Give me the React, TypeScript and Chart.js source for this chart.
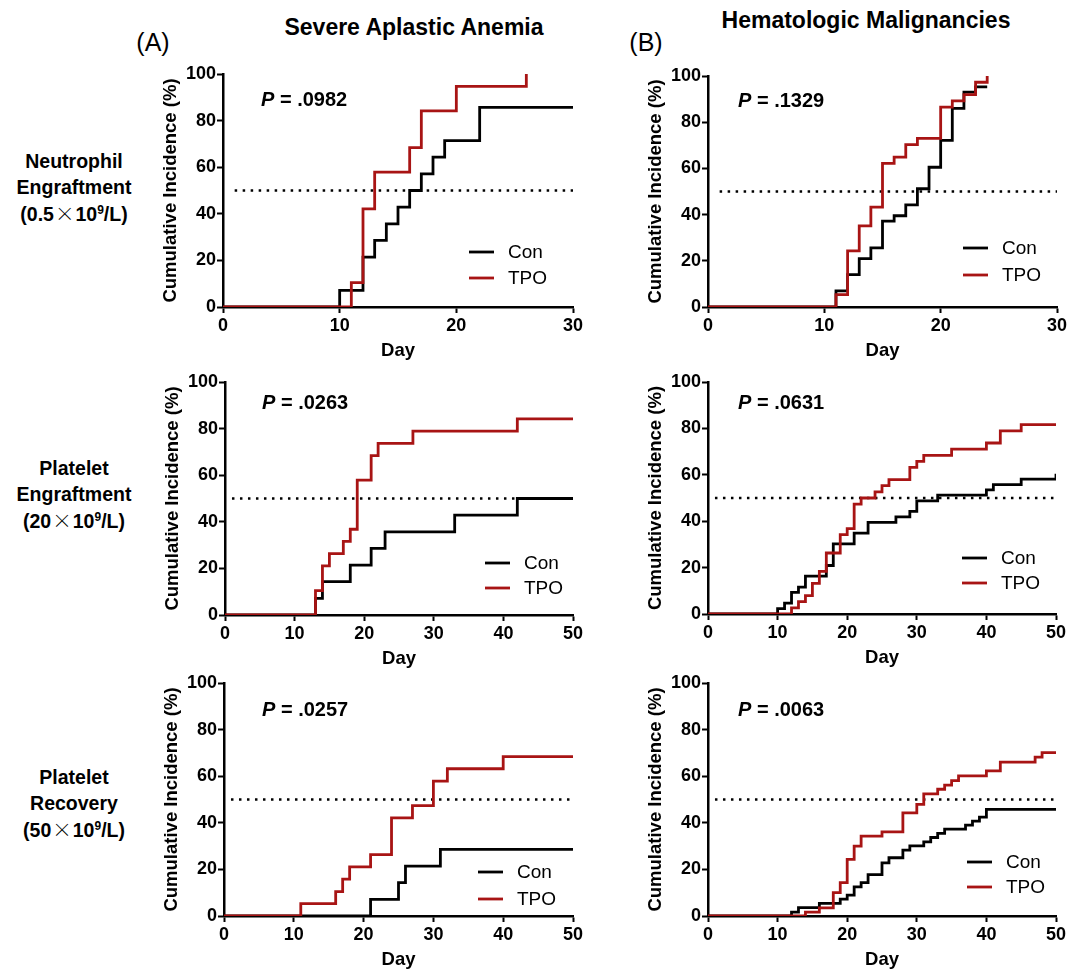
import React, { useEffect, useRef } from "react";
import { Chart, registerables } from "chart.js";

Chart.register(...registerables);

// ---------- DATA ----------
// Severe Aplastic Anemia – Neutrophil engraftment
const saaNeutConDays = [0, 10, 12, 13, 14, 15, 16, 17, 18, 19, 22, 30];
const saaNeutConPct = [0, 7.1, 21.4, 28.6, 35.7, 42.9, 50, 57.1, 64.3, 71.4, 85.7, 85.7];
const saaNeutTpoDays = [0, 11, 12, 13, 16, 17, 20, 26];
const saaNeutTpoPct = [0, 10.5, 42.1, 57.9, 68.4, 84.2, 94.7, 100];

// Hematologic Malignancies – Neutrophil engraftment
const hmNeutConDays = [0, 11, 12, 13, 14, 15, 16, 17, 18, 19, 20, 21, 22, 23, 24];
const hmNeutConPct = [0, 7.0, 14.0, 20.9, 25.6, 37.2, 39.5, 44.2, 51.2, 60.5, 72.1, 86.0, 93.0, 95.3, 95.3];
const hmNeutTpoDays = [0, 11, 12, 13, 14, 15, 16, 17, 18, 20, 21, 22, 23, 24];
const hmNeutTpoPct = [0, 5.4, 24.3, 35.1, 43.2, 62.2, 64.9, 70.3, 73.0, 86.5, 89.2, 91.9, 97.3, 100];

// Severe Aplastic Anemia – Platelet engraftment
const saaPltEngConDays = [0, 13, 14, 18, 21, 23, 33, 42, 50];
const saaPltEngConPct = [0, 7.1, 14.3, 21.4, 28.6, 35.7, 42.9, 50, 50];
const saaPltEngTpoDays = [0, 13, 14, 15, 17, 18, 19, 21, 22, 27, 42, 50];
const saaPltEngTpoPct = [0, 10.5, 21.1, 26.3, 31.6, 36.8, 57.9, 68.4, 73.7, 78.9, 84.2, 84.2];

// Hematologic Malignancies – Platelet engraftment
const hmPltEngConDays = [0, 10, 11, 12, 13, 14, 17, 18, 21, 23, 27, 29, 30, 33, 40, 41, 45, 50];
const hmPltEngConPct = [0, 2.3, 4.7, 9.3, 11.6, 16.3, 20.9, 30.2, 34.9, 39.5, 41.9, 44.2, 48.8, 51.2, 53.5, 55.8, 58.1, 60.5];
const hmPltEngTpoDays = [0, 12, 13, 14, 15, 16, 17, 19, 20, 21, 22, 24, 25, 26, 29, 30, 31, 35, 40, 42, 45, 50];
const hmPltEngTpoPct = [0, 2.6, 5.3, 7.9, 13.2, 18.4, 26.3, 34.2, 36.8, 47.4, 50, 52.6, 55.3, 57.9, 63.2, 65.8, 68.4, 71.1, 73.7, 78.9, 81.6, 81.6];

// Severe Aplastic Anemia – Platelet recovery
const saaPltRecConDays = [0, 21, 25, 26, 31, 50];
const saaPltRecConPct = [0, 7.1, 14.3, 21.4, 28.6, 28.6];
const saaPltRecTpoDays = [0, 11, 16, 17, 18, 21, 24, 27, 30, 32, 40, 50];
const saaPltRecTpoPct = [0, 5.3, 10.5, 15.8, 21.1, 26.3, 42.1, 47.4, 57.9, 63.2, 68.4, 68.4];

// Hematologic Malignancies – Platelet recovery
const hmPltRecConDays = [0, 12, 13, 16, 19, 20, 21, 22, 23, 25, 26, 28, 29, 31, 32, 33, 34, 37, 38, 39, 40, 50];
const hmPltRecConPct = [0, 1.7, 3.6, 5.4, 7.2, 9.0, 12.5, 14.3, 17.8, 22.8, 25.0, 28.3, 30.1, 31.8, 33.7, 35.5, 37.3, 39.0, 40.7, 42.4, 45.8, 45.8];
const hmPltRecTpoDays = [0, 14, 16, 18, 19, 20, 21, 22, 25, 28, 30, 31, 33, 34, 35, 36, 40, 42, 47, 48, 50];
const hmPltRecTpoPct = [0, 1.7, 3.5, 10.0, 14.3, 24.3, 30.0, 34.3, 36.1, 44.3, 47.9, 52.4, 54.4, 56.2, 58.1, 60.1, 62.3, 66.0, 68.2, 70.1, 70.1];

const pValues = [".0982", ".1329", ".0263", ".0631", ".0257", ".0063"];
const xMaxes = [30, 30, 50, 50, 50, 50];
const seriesNames = ["Con", "TPO"];
const refLevel = 50;
const yTicksMax = 100;

// ---------- STYLE / LAYOUT ----------
const FONT = "Arial, 'Liberation Sans', Helvetica, sans-serif";
const RED = "#a81414";
const BLACK = "#000000";

const W_AXIS = 63;
const H_AXIS = 55;
const PAD_T = 14;
const PAD_R = 24;
const PAD_B = 2;

type Rect = { L: number; T: number; R: number; B: number };
type PanelDef = {
  con: [number[], number[]];
  tpo: [number[], number[]];
  xMax: number;
  p: string;
  rect: Rect;
  legend: { dx: number; conDy: number; tpoDy: number };
  pPos: { dx: number; dy: number };
};

const panels: PanelDef[] = [
  {
    con: [saaNeutConDays, saaNeutConPct], tpo: [saaNeutTpoDays, saaNeutTpoPct],
    xMax: xMaxes[0], p: pValues[0],
    rect: { L: 223, T: 74, R: 573, B: 307 },
    legend: { dx: 104, conDy: 55, tpoDy: 29 }, pPos: { dx: 38, dy: 26 },
  },
  {
    con: [hmNeutConDays, hmNeutConPct], tpo: [hmNeutTpoDays, hmNeutTpoPct],
    xMax: xMaxes[1], p: pValues[1],
    rect: { L: 708, T: 76, R: 1057, B: 307 },
    legend: { dx: 94, conDy: 59, tpoDy: 32 }, pPos: { dx: 30, dy: 25 },
  },
  {
    con: [saaPltEngConDays, saaPltEngConPct], tpo: [saaPltEngTpoDays, saaPltEngTpoPct],
    xMax: xMaxes[2], p: pValues[2],
    rect: { L: 225, T: 382, R: 573, B: 615 },
    legend: { dx: 88, conDy: 52, tpoDy: 27 }, pPos: { dx: 37, dy: 21 },
  },
  {
    con: [hmPltEngConDays, hmPltEngConPct], tpo: [hmPltEngTpoDays, hmPltEngTpoPct],
    xMax: xMaxes[3], p: pValues[3],
    rect: { L: 708, T: 382, R: 1056, B: 614 },
    legend: { dx: 94, conDy: 56, tpoDy: 31 }, pPos: { dx: 30, dy: 21 },
  },
  {
    con: [saaPltRecConDays, saaPltRecConPct], tpo: [saaPltRecTpoDays, saaPltRecTpoPct],
    xMax: xMaxes[4], p: pValues[4],
    rect: { L: 224, T: 683, R: 573, B: 916 },
    legend: { dx: 95, conDy: 44, tpoDy: 17 }, pPos: { dx: 38, dy: 27 },
  },
  {
    con: [hmPltRecConDays, hmPltRecConPct], tpo: [hmPltRecTpoDays, hmPltRecTpoPct],
    xMax: xMaxes[5], p: pValues[5],
    rect: { L: 708, T: 683, R: 1056, B: 916 },
    legend: { dx: 89, conDy: 54, tpoDy: 29 }, pPos: { dx: 30, dy: 27 },
  },
];

function toPoints(days: number[], pct: number[]) {
  return days.map((d, i) => ({ x: d, y: pct[i] }));
}

function Panel({ def }: { def: PanelDef }) {
  const ref = useRef<HTMLCanvasElement | null>(null);
  const { L, T, R, B } = def.rect;
  const cw = W_AXIS + (R - L) + PAD_R;
  const ch = PAD_T + (B - T) + H_AXIS + PAD_B;

  useEffect(() => {
    if (!ref.current) return;
    const overlay = {
      id: "overlay",
      afterDatasetsDraw(chart: any) {
        const { ctx, chartArea } = chart;
        ctx.save();
        // P value
        ctx.textBaseline = "middle";
        ctx.textAlign = "left";
        ctx.fillStyle = "#000";
        const px = chartArea.left + def.pPos.dx;
        const py = chartArea.top + def.pPos.dy;
        ctx.font = `italic bold 20px ${FONT}`;
        ctx.fillText("P", px, py);
        const pw = ctx.measureText("P").width;
        ctx.font = `bold 20px ${FONT}`;
        ctx.fillText(" = " + def.p, px + pw, py);
        // legend
        const colors = [BLACK, RED];
        const dys = [def.legend.conDy, def.legend.tpoDy];
        seriesNames.forEach((name, i) => {
          const x0 = chartArea.right - def.legend.dx;
          const y0 = chartArea.bottom - dys[i];
          ctx.beginPath();
          ctx.strokeStyle = colors[i];
          ctx.lineWidth = 2.8;
          ctx.moveTo(x0, y0);
          ctx.lineTo(x0 + 25, y0);
          ctx.stroke();
          ctx.fillStyle = "#000";
          ctx.font = `19px ${FONT}`;
          ctx.fillText(name, x0 + 39, y0 + 1);
        });
        ctx.restore();
      },
    };

    const tickFont = { family: FONT, size: 18, weight: "bold" as const };
    const titleFont = { family: FONT, size: 18.5, weight: "bold" as const };
    const chart = new Chart(ref.current, {
      type: "line",
      data: {
        datasets: [
          {
            label: seriesNames[1],
            data: toPoints(def.tpo[0], def.tpo[1]),
            borderColor: RED,
            borderWidth: 2.8,
            pointRadius: 0,
            stepped: "before",
            fill: false,
          },
          {
            label: seriesNames[0],
            data: toPoints(def.con[0], def.con[1]),
            borderColor: BLACK,
            borderWidth: 2.8,
            pointRadius: 0,
            stepped: "before",
            fill: false,
          },
          {
            label: "ref",
            data: [
              { x: 1, y: refLevel },
              { x: def.xMax, y: refLevel },
            ],
            borderColor: BLACK,
            borderWidth: 2.5,
            borderDash: [2.5, 5.5],
            pointRadius: 0,
            fill: false,
          },
        ],
      },
      options: {
        responsive: false,
        animation: false,
        devicePixelRatio: 1,
        layout: { padding: { left: 0, top: PAD_T, right: PAD_R, bottom: PAD_B } },
        plugins: { legend: { display: false }, tooltip: { enabled: false } },
        scales: {
          x: {
            type: "linear",
            min: 0,
            max: def.xMax,
            ticks: { stepSize: 10, color: "#000", font: tickFont, padding: 2, maxRotation: 0 },
            grid: { drawOnChartArea: false, drawTicks: true, tickLength: 6, tickWidth: 2, tickColor: "#000" },
            border: { display: true, color: "#000", width: 2.5 },
            title: { display: true, text: "Day", color: "#000", font: titleFont, padding: 0 },
            afterFit: (s: any) => {
              s.height = H_AXIS;
            },
          },
          y: {
            type: "linear",
            min: 0,
            max: yTicksMax,
            ticks: { stepSize: 20, color: "#000", font: tickFont, padding: 1 },
            grid: { drawOnChartArea: false, drawTicks: true, tickLength: 6, tickWidth: 2, tickColor: "#000" },
            border: { display: true, color: "#000", width: 2.5 },
            title: {
              display: true,
              text: "Cumulative Incidence (%)",
              color: "#000",
              font: titleFont,
              padding: 0,
            },
            afterFit: (s: any) => {
              s.width = W_AXIS;
            },
          },
        },
      } as any,
      plugins: [overlay],
    });
    return () => chart.destroy();
  }, [def]);

  return (
    <canvas
      ref={ref}
      width={cw}
      height={ch}
      style={{ position: "absolute", left: L - W_AXIS, top: T - PAD_T, width: cw, height: ch }}
    />
  );
}

const rowLabelStyle: React.CSSProperties = {
  position: "absolute",
  transform: "translate(-50%, -50%)",
  fontFamily: FONT,
  fontWeight: "bold",
  fontSize: 19.5,
  lineHeight: "26px",
  textAlign: "center",
  whiteSpace: "nowrap",
  color: "#000",
};

const Times = () => (
  <span style={{ fontFamily: "'Noto Sans CJK SC', sans-serif", fontWeight: 300, margin: "0 1px" }}>×</span>
);
const Sup9 = () => (
  <sup style={{ fontSize: 12, lineHeight: 0, verticalAlign: "7px" }}>9</sup>
);

export default function App() {
  return (
    <div style={{ position: "absolute", left: 0, top: 0, width: 1068, height: 970, background: "#fff", overflow: "hidden" }}>
      <div style={{ position: "absolute", left: 153, top: 42, transform: "translate(-50%,-50%)", fontFamily: FONT, fontSize: 25 }}>(A)</div>
      <div style={{ position: "absolute", left: 646, top: 42, transform: "translate(-50%,-50%)", fontFamily: FONT, fontSize: 25 }}>(B)</div>
      <div style={{ position: "absolute", left: 414, top: 27, transform: "translate(-50%,-50%)", fontFamily: FONT, fontWeight: "bold", fontSize: 23, whiteSpace: "nowrap" }}>
        Severe Aplastic Anemia
      </div>
      <div style={{ position: "absolute", left: 866, top: 20, transform: "translate(-50%,-50%)", fontFamily: FONT, fontWeight: "bold", fontSize: 23, whiteSpace: "nowrap" }}>
        Hematologic Malignancies
      </div>

      <div style={{ ...rowLabelStyle, left: 74, top: 187 }}>
        Neutrophil<br />Engraftment<br />(0.5<Times />10<Sup9 />/L)
      </div>
      <div style={{ ...rowLabelStyle, left: 74, top: 494 }}>
        Platelet<br />Engraftment<br />(20<Times />10<Sup9 />/L)
      </div>
      <div style={{ ...rowLabelStyle, left: 74, top: 803 }}>
        Platelet<br />Recovery<br />(50<Times />10<Sup9 />/L)
      </div>

      {panels.map((p, i) => (
        <Panel key={i} def={p} />
      ))}
    </div>
  );
}
